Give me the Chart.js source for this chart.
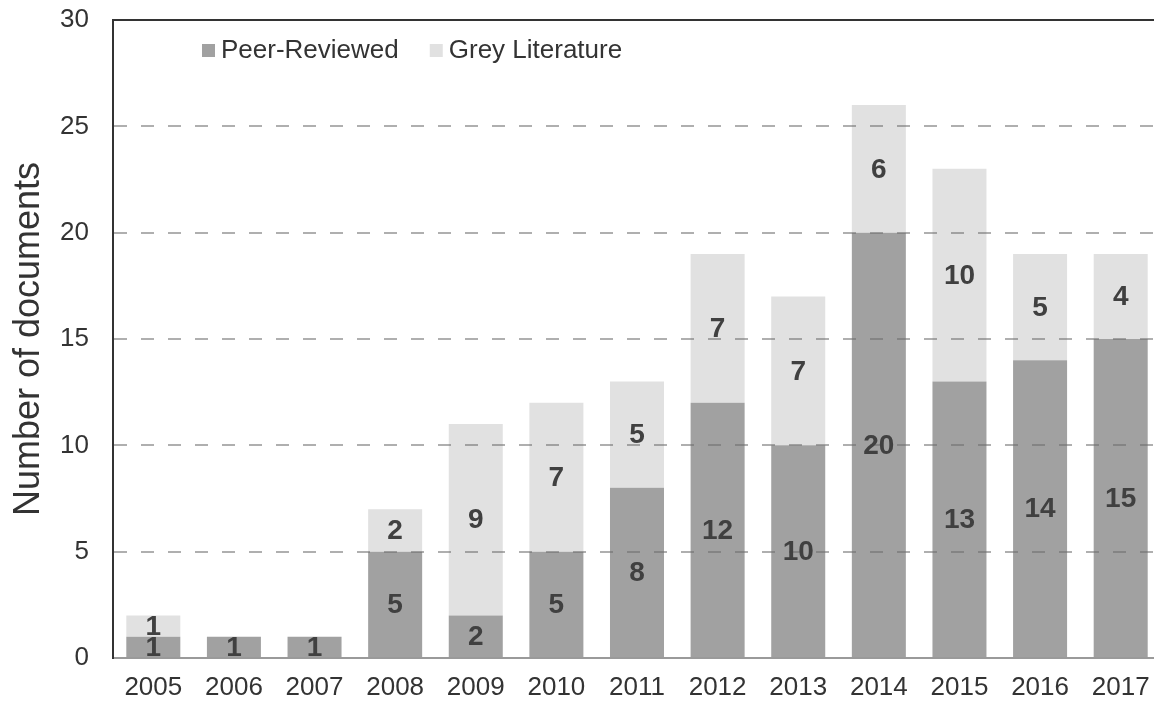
<!DOCTYPE html>
<html>
<head>
<meta charset="utf-8">
<script src="https://cdn.jsdelivr.net/npm/chart.js@4/dist/chart.umd.min.js"></script>
<style>
  html, body { margin: 0; padding: 0; background: #fff; overflow: hidden; }
  /* plot runs a few px past the right edge, as in the source figure */
  #wrap { width: 1161px; height: 703px; position: relative; }
</style>
</head>
<body>
<div id="wrap"><canvas id="docsChart"></canvas></div>
<script>
// Documents per year
const years = ['2005', '2006', '2007', '2008', '2009', '2010', '2011', '2012', '2013', '2014', '2015', '2016', '2017'];
const peerReviewed = [1, 1, 1, 5, 2, 5, 8, 12, 10, 20, 13, 14, 15];
const greyLiterature = [1, 0, 0, 2, 9, 7, 5, 7, 7, 6, 10, 5, 4];
const yTicks = [0, 5, 10, 15, 20, 25, 30];

const FONT = "'Liberation Sans', Arial, sans-serif";

// Value labels inside each bar segment
const barLabels = {
    id: 'barLabels',
    afterDraw(chart) {
        const ctx = chart.ctx;
        ctx.save();
        ctx.font = 'bold 28px ' + FONT;
        ctx.fillStyle = '#404040';
        ctx.textAlign = 'center';
        ctx.textBaseline = 'middle';
        chart.data.datasets.forEach((ds, i) => {
            const meta = chart.getDatasetMeta(i);
            meta.data.forEach((bar, j) => {
                const v = ds.data[j];
                if (!v) return;
                ctx.fillText(String(v), bar.x, (bar.y + bar.base) / 2 + 1);
            });
        });
        ctx.restore();
    }
};

// Legend drawn inside the plot, top left
const insideLegend = {
    id: 'insideLegend',
    afterDraw(chart) {
        const ctx = chart.ctx;
        ctx.save();
        ctx.font = '26px ' + FONT;
        ctx.textBaseline = 'middle';
        ctx.textAlign = 'left';
        let x = 202;
        const y = 50;
        chart.data.datasets.forEach(ds => {
            ctx.fillStyle = ds.backgroundColor;
            ctx.fillRect(x, y - 6, 13, 13);
            ctx.fillStyle = '#333333';
            ctx.fillText(ds.label, x + 19, y + 1);
            x += 19 + ctx.measureText(ds.label).width + 31;
        });
        ctx.restore();
    }
};

new Chart(document.getElementById('docsChart'), {
    type: 'bar',
    data: {
        labels: years,
        datasets: [{
            label: 'Peer-Reviewed',
            data: peerReviewed,
            backgroundColor: '#a1a1a1',
            barPercentage: 0.67,
            categoryPercentage: 1.0
        }, {
            label: 'Grey Literature',
            data: greyLiterature,
            backgroundColor: '#e1e1e1',
            barPercentage: 0.67,
            categoryPercentage: 1.0
        }]
    },
    options: {
        responsive: true,
        maintainAspectRatio: false,
        animation: false,
        layout: { padding: { top: 20, right: 0, bottom: 0, left: 0 } },
        plugins: {
            legend: { display: false },
            tooltip: { enabled: false }
        },
        scales: {
            x: {
                stacked: true,
                grid: { display: false, drawTicks: false },
                border: { color: '#9a9a9a', width: 2 },
                ticks: {
                    color: '#333333',
                    font: { family: FONT, size: 26 },
                    padding: 14,
                    maxRotation: 0
                },
                afterFit(scale) { scale.height = 45; scale.paddingLeft = 0; scale.paddingRight = 0; }
            },
            // top frame line
            xTop: {
                position: 'top',
                grid: { display: false, drawTicks: false },
                border: { color: '#333333', width: 2 },
                ticks: { display: false },
                afterFit(scale) { scale.height = 0; }
            },
            y: {
                stacked: true,
                min: 0,
                max: 30,
                afterBuildTicks(scale) {
                    scale.ticks = yTicks.map(v => ({ value: v }));
                },
                grid: {
                    z: 1,
                    drawTicks: false,
                    color: ctx => (ctx.tick && (ctx.tick.value === 0 || ctx.tick.value === 30)) ? 'rgba(0,0,0,0)' : 'rgba(110,110,110,0.55)',
                    lineWidth: 2
                },
                border: { color: '#333333', width: 2, dash: [13, 14], z: 2 },
                ticks: {
                    color: '#333333',
                    font: { family: FONT, size: 26 },
                    padding: 24
                },
                title: {
                    display: true,
                    text: 'Number of documents',
                    color: '#333333',
                    font: { family: FONT, size: 36 },
                    padding: { top: 7, bottom: 0 }
                },
                afterFit(scale) { scale.width = 113; scale.paddingTop = 0; scale.paddingBottom = 0; }
            }
        }
    },
    plugins: [barLabels, insideLegend]
});
</script>
</body>
</html>
